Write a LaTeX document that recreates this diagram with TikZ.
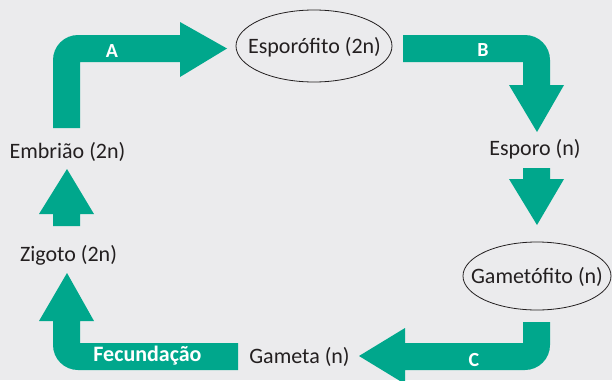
\documentclass[tikz,border=0pt]{standalone}
\usepackage{fontspec}
\setmainfont{Carlito}
\definecolor{bg}{RGB}{235,235,237}
\definecolor{teal}{RGB}{0,167,140}
\definecolor{ink}{RGB}{35,31,32}
\begin{document}
\begin{tikzpicture}[x=1pt,y=-1pt,
  lbl/.style={text=ink,font=\fontsize{22}{26}\selectfont,inner sep=0pt},
  stage/.style={lbl,draw=ink,line width=0.8pt,ellipse},
  tag/.style={text=white,font=\fontsize{20}{24}\selectfont\bfseries,inner sep=0pt},
  blk/.style={fill=teal}]
\fill[bg] (0,0) rectangle (612,380);
\useasboundingbox (0,0) rectangle (612,380);
% ellipses
\draw[ink,line width=0.8pt] (314,46) ellipse [x radius=78,y radius=36];
\draw[ink,line width=0.8pt] (537,276) ellipse [x radius=74,y radius=34];
% texts
\node[lbl] (esporofito) at (314.5,47) {Esporófito (2n)};
\node[lbl] (esporo) at (535,149) {Esporo (n)};
\node[lbl] (gametofito) at (537,277) {Gametófito (n)};
\node[lbl] (gameta) at (299.5,357) {Gameta (n)};
\node[lbl] (zigoto) at (68.5,255) {Zigoto (2n)};
\node[lbl] (embriao) at (67.5,152) {Embrião (2n)};
% arrow A
\fill[blk] (53,128) -- (53,60) .. controls (53,46.2) and (64.2,35) .. (78,35) -- (180,35) -- (180,22) -- (227,48.5) -- (180,77) -- (180,62) -- (80,62) -- (80,128) -- cycle;
% arrow B
\fill[blk] (403,35) -- (525,35) .. controls (538.8,35) and (550,46.2) .. (550,60) -- (550,85) -- (564,85) -- (537,132) -- (509,85) -- (523,85) -- (523,62) -- (403,62) -- cycle;
% Esporo -> Gametofito
\fill[blk] (523,168) -- (550,168) -- (550,179) -- (564,179) -- (537,225) -- (509,179) -- (523,179) -- cycle;
% arrow C
\fill[blk] (523,322) -- (550,322) -- (550,345) .. controls (550,358.8) and (538.8,370) .. (525,370) -- (405,370) -- (405,384) -- (359,356) -- (405,328) -- (405,343) -- (523,343) -- cycle;
% Fecundacao arrow
\fill[blk] (238,343) -- (238,370) -- (78,370) .. controls (64.2,370) and (53,358.8) .. (53,345) -- (53,321) -- (39,321) -- (67,273) -- (94,321) -- (80,321) -- (80,343) -- cycle;
% Zigoto -> Embriao
\fill[blk] (53,226) -- (53,214) -- (39,214) -- (67,169) -- (94,214) -- (80,214) -- (80,226) -- cycle;
% tags
\node[tag] (tA) at (112,51) {A};
\node[tag] (tB) at (483,50) {B};
\node[tag] (tC) at (474,360) {C};
\node[tag,font=\fontsize{22}{26}\selectfont\bfseries] (tF) at (147.5,356) {Fecundação};
\end{tikzpicture}
\end{document}
